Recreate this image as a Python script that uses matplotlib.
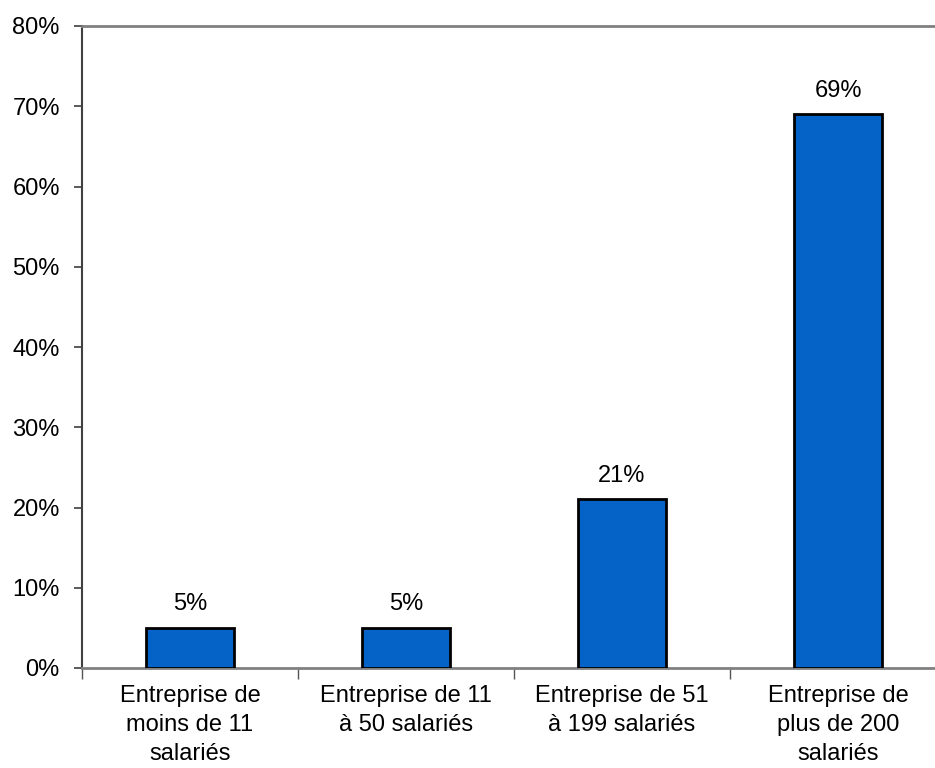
import matplotlib.pyplot as plt
from matplotlib.ticker import FixedLocator, NullFormatter

plt.rcParams['font.family'] = ['Liberation Sans', 'DejaVu Sans']

categories = [
    "Entreprise de\nmoins de 11\nsalariés",
    "Entreprise de 11\nà 50 salariés",
    "Entreprise de 51\nà 199 salariés",
    "Entreprise de\nplus de 200\nsalariés",
]
shares = [5, 5, 21, 69]
y_ticks = [0, 10, 20, 30, 40, 50, 60, 70, 80]

fs = 17

fig = plt.figure(figsize=(9.35, 7.68), dpi=100)
# the plot area runs past the right edge of the figure
ax = fig.add_axes([82 / 935, 1 - 668 / 768, 864 / 935, 642 / 768])

x = list(range(len(categories)))
ax.bar(x, shares, width=0.406, color='#0563C8', edgecolor='black', linewidth=2, zorder=3)

for xi, v in zip(x, shares):
    ax.annotate(f"{v}%", (xi, v), xytext=(0, 9), textcoords='offset points',
                ha='center', va='bottom', fontsize=fs)

ax.set_xlim(-0.5, len(categories) - 0.5)
ax.set_ylim(0, 80)
ax.set_yticks(y_ticks)
ax.set_yticklabels([f"{t}%" for t in y_ticks], fontsize=fs)

# category labels centred, tick marks between categories
ax.xaxis.set_major_locator(FixedLocator([i + 0.5 for i in range(len(categories) - 1)] + [-0.5]))
ax.xaxis.set_major_formatter(NullFormatter())
ax.set_xticks(x, minor=True)
ax.set_xticklabels(categories, minor=True, fontsize=fs, linespacing=1.42, va='top')
ax.tick_params(axis='x', which='minor', length=0, pad=12)
ax.tick_params(axis='x', which='major', length=8, width=1, color='#555555', direction='out')
ax.tick_params(axis='y', length=6, width=1.2, color='#404040', direction='out', pad=10)

ax.spines['left'].set_color('#404040')
ax.spines['left'].set_linewidth(1.5)
ax.spines['bottom'].set_color('#808080')
ax.spines['bottom'].set_linewidth(2)
ax.spines['top'].set_color('#808080')
ax.spines['top'].set_linewidth(2)
ax.spines['right'].set_visible(False)

fig.savefig('out.png', dpi=100)
